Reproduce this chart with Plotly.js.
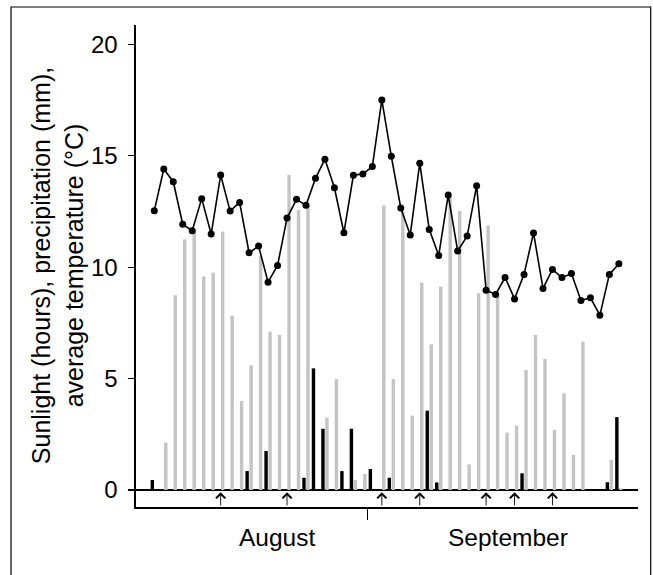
<!DOCTYPE html>
<html>
<head>
<meta charset="utf-8">
<script src="https://cdn.plot.ly/plotly-3.0.1.min.js"></script>
<style>
  html, body { margin: 0; padding: 0; background: #fff; }
  #chart { width: 653px; height: 575px; }
</style>
</head>
<body>
<div id="chart"></div>
<script>
// ---- Data (one entry per day, day 0 = 9 August) ----
const temperature = [12.54, 14.41, 13.84, 11.93, 11.64, 13.08, 11.49, 14.14, 12.52, 12.91,
                     10.65, 10.95, 9.33, 10.08, 12.21, 13.05, 12.78, 13.99, 14.85, 13.57,
                     11.55, 14.13, 14.19, 14.52, 17.51, 14.98, 12.66, 11.45, 14.67, 11.70,
                     10.53, 13.24, 10.73, 11.40, 13.66, 8.97, 8.78, 9.54, 8.58, 9.68,
                     11.54, 9.05, 9.90, 9.54, 9.72, 8.51, 8.63, 7.85, 9.68, 10.16];
const sunlight = [0, 2.12, 8.74, 11.25, 11.6, 9.58, 9.76, 11.6, 7.83, 4.0,
                  5.6, 10.5, 7.11, 6.96, 14.14, 12.57, 12.8, 0, 3.25, 4.98,
                  0, 0.45, 0.72, 0, 12.77, 4.98, 12.5, 3.34, 9.31, 6.54,
                  9.13, 13.2, 12.53, 1.15, 8.83, 11.87, 8.8, 2.58, 2.89, 5.39,
                  6.96, 5.88, 2.7, 4.34, 1.58, 6.66, 0, 0, 1.35, 0.08];
const precipitation = [0.45, 0, 0, 0, 0, 0, 0, 0, 0, 0,
                       0.85, 0, 1.75, 0, 0, 0, 0.55, 5.46, 2.75, 0,
                       0.85, 2.75, 0, 0.94, 0, 0.55, 0, 0, 0, 3.56,
                       0.34, 0, 0, 0, 0, 0, 0, 0, 0, 0.75,
                       0, 0, 0, 0, 0, 0, 0, 0, 0.35, 3.27];
const arrowDays = [7, 14, 24, 28, 35, 38, 42];
const monthNames = ['August', 'September'];
const yTickVals = [0, 5, 10, 15, 20];
const yTickText = ['0', '5', '10', '15', '20'];

// ---- Layout constants ----
const dayIdx = temperature.map((_, i) => i);
const monthBoundary = 22.5;
const monthLabelX = [12.9, 37.3];
const FONT = 'Liberation Sans, Arial, Helvetica, sans-serif';

const traces = [
  {
    type: 'bar', x: dayIdx, y: sunlight, base: 0,
    width: 0.36, offset: 0.03,
    marker: { color: '#c4c4c4', line: { width: 0 } },
    hoverinfo: 'skip', showlegend: false
  },
  {
    type: 'bar', x: dayIdx, y: precipitation, base: 0,
    width: 0.36, offset: -0.39,
    marker: { color: '#000000', line: { width: 0 } },
    hoverinfo: 'skip', showlegend: false
  },
  {
    type: 'scatter', mode: 'lines+markers', x: dayIdx, y: temperature,
    line: { color: '#000', width: 1.6 },
    marker: { color: '#000', size: 7 },
    hoverinfo: 'skip', showlegend: false
  }
];

const annotations = [];
arrowDays.forEach(d => {
  annotations.push({
    x: d, y: -0.1, xref: 'x', yref: 'y',
    ax: d, ay: -0.76, axref: 'x', ayref: 'y',
    text: '', showarrow: true, arrowhead: 4, arrowsize: 2,
    arrowwidth: 0.9, arrowcolor: '#000'
  });
});
monthNames.forEach((m, i) => {
  annotations.push({
    x: monthLabelX[i], xref: 'x', y: -0.064, yref: 'paper',
    text: m, showarrow: false, xanchor: 'center', yanchor: 'middle',
    font: { family: FONT, size: 24.5, color: '#000' }
  });
});
annotations.push({
  x: -0.157, xref: 'paper', y: 0.5, yref: 'paper',
  text: 'Sunlight (hours), precipitation (mm),<br>average temperature (°C)',
  textangle: -90, showarrow: false, xanchor: 'center', yanchor: 'middle',
  font: { family: FONT, size: 25, color: '#000' }
});

const layout = {
  width: 653, height: 575,
  margin: { l: 136, r: 15, t: 25, b: 68, pad: 0 },
  paper_bgcolor: '#fff', plot_bgcolor: '#fff',
  barmode: 'overlay',
  showlegend: false,
  font: { family: FONT, color: '#000' },
  xaxis: {
    range: [-1.93, 51.02], showgrid: false, zeroline: false,
    showline: true, linecolor: '#000', linewidth: 1.6,
    tickmode: 'array', tickvals: [monthBoundary], ticktext: [''],
    ticks: 'outside', ticklen: 11, tickwidth: 1.4, tickcolor: '#000',
    showticklabels: false, fixedrange: true
  },
  yaxis: {
    range: [-0.763, 20.875], showgrid: false,
    zeroline: true, zerolinecolor: '#000', zerolinewidth: 1.6,
    showline: true, linecolor: '#000', linewidth: 1.6,
    tickmode: 'array', tickvals: yTickVals, ticktext: yTickText,
    ticks: 'outside', ticklen: 6, tickwidth: 1.2, tickcolor: '#000',
    ticklabelstandoff: 6,
    tickfont: { family: FONT, size: 24, color: '#000' },
    fixedrange: true
  },
  annotations: annotations,
  shapes: [{
    type: 'rect', xref: 'paper', yref: 'paper',
    x0: -0.249, x1: 1.0253, y0: -0.15, y1: 1.0373,
    line: { color: '#000', width: 1.2 }, fillcolor: 'rgba(0,0,0,0)', layer: 'above'
  }]
};

Plotly.newPlot('chart', traces, layout, { displayModeBar: false, staticPlot: true });
</script>
</body>
</html>
